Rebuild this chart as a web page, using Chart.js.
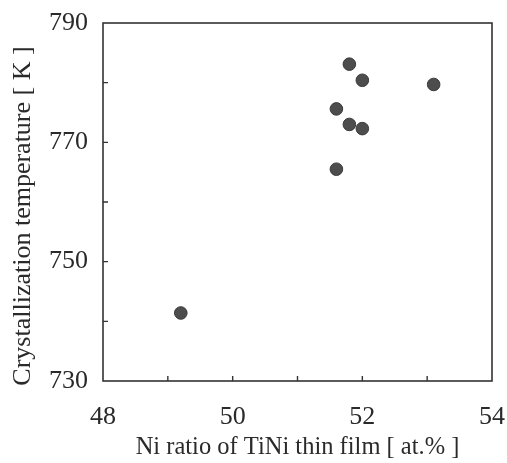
<!DOCTYPE html>
<html>
<head>
<meta charset="utf-8">
<script src="https://cdn.jsdelivr.net/npm/chart.js@4/dist/chart.umd.min.js"></script>
<style>
  html, body { margin: 0; padding: 0; background: #fff; }
  #wrap { width: 507px; height: 463px; }
</style>
</head>
<body>
<div id="wrap"><canvas id="chart"></canvas></div>
<script>
// Ni ratio [at.%] vs crystallization temperature [K]
const niRatio = [49.2, 51.6, 51.6, 51.8, 51.8, 52.0, 52.0, 53.1];
const crystTemp = [741.4, 765.5, 775.6, 773.0, 783.1, 772.3, 780.4, 779.7];
const xTickLabels = [48, 50, 52, 54];
const yTickLabels = [730, 750, 770, 790];
const yTitle = 'Crystallization temperature [ K ]';

const ink = '#2a2a2a';
const serif = "'Liberation Serif', 'Times New Roman', serif";

// frame box + inward tick marks, positions come from the scales
const framePlugin = {
  id: 'frame',
  afterDraw(chart) {
    const ctx = chart.ctx;
    const a = chart.chartArea;
    const xs = chart.scales.x, ys = chart.scales.y;
    ctx.save();
    ctx.strokeStyle = '#333';
    ctx.lineWidth = 1.6;
    ctx.strokeRect(a.left, a.top, a.right - a.left, a.bottom - a.top);
    ctx.lineWidth = 1.4;
    ctx.beginPath();
    xs.ticks.forEach(t => {
      const px = xs.getPixelForValue(t.value);
      if (px <= a.left + 1 || px >= a.right - 1) return;
      ctx.moveTo(px, a.bottom);
      ctx.lineTo(px, a.bottom - 5);
    });
    ys.ticks.forEach(t => {
      const py = ys.getPixelForValue(t.value);
      if (py <= a.top + 1 || py >= a.bottom - 1) return;
      ctx.moveTo(a.left, py);
      ctx.lineTo(a.left + 5, py);
    });
    ctx.stroke();

    // y title, sitting a bit low like the original figure
    ctx.fillStyle = ink;
    ctx.font = '26px ' + serif;
    ctx.textAlign = 'center';
    ctx.textBaseline = 'middle';
    ctx.translate(23, (a.top + a.bottom) / 2 + 14);
    ctx.rotate(-Math.PI / 2);
    ctx.fillText(yTitle, 0, 0);
    ctx.restore();
  }
};

const points = niRatio.map((x, i) => ({ x: x, y: crystTemp[i] }));

new Chart(document.getElementById('chart'), {
  type: 'scatter',
  data: {
    datasets: [{
      data: points,
      backgroundColor: '#4d4d4d',
      borderColor: '#3a3a3a',
      borderWidth: 1,
      pointRadius: 6.3,
      pointHoverRadius: 6.3
    }]
  },
  options: {
    responsive: true,
    maintainAspectRatio: false,
    animation: false,
    layout: { padding: { left: 0, right: 15, top: 23, bottom: 0 } },
    plugins: {
      legend: { display: false },
      tooltip: { enabled: false }
    },
    scales: {
      x: {
        type: 'linear',
        min: 48,
        max: 54,
        grid: { display: false, drawTicks: false },
        border: { display: false },
        ticks: {
          stepSize: 1,
          autoSkip: false,
          maxRotation: 0,
          padding: 21,
          color: ink,
          font: { family: serif, size: 26 },
          callback: v => xTickLabels.includes(v) ? String(v) : ''
        },
        title: {
          display: true,
          text: 'Ni ratio of TiNi thin film [ at.% ]',
          color: ink,
          font: { family: serif, size: 24.5 },
          padding: { top: 0, bottom: 1 }
        },
        afterFit(scale) {
          scale.height = 82;
          scale.paddingLeft = 0;
          scale.paddingRight = 0;
        }
      },
      y: {
        type: 'linear',
        min: 730,
        max: 790,
        grid: { display: false, drawTicks: false },
        border: { display: false },
        ticks: {
          stepSize: 10,
          autoSkip: false,
          padding: 15,
          color: ink,
          font: { family: serif, size: 26 },
          callback: v => yTickLabels.includes(v) ? String(v) : ''
        },
        title: { display: false },
        afterFit(scale) {
          scale.width = 103;
          scale.paddingTop = 0;
          scale.paddingBottom = 0;
        }
      }
    }
  },
  plugins: [framePlugin]
});
</script>
</body>
</html>
